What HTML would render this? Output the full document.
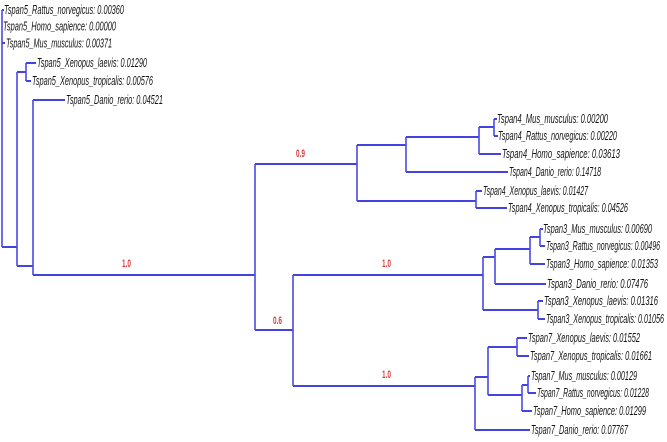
<!DOCTYPE html>
<html>
<head>
<meta charset="utf-8">
<style>
html,body{margin:0;padding:0;background:#fff;}
svg{display:block;}
.t{font-family:"Liberation Sans",Arial,sans-serif;font-style:italic;font-size:13px;fill:#151515;}
.s{font-family:"Liberation Sans",Arial,sans-serif;font-weight:bold;font-size:11px;fill:#d63a3a;}
.h{stroke:#4343e2;stroke-width:2;fill:none;}
.v{stroke:#4a4ae4;stroke-width:1.6;fill:none;}
</style>
</head>
<body>
<svg width="667" height="442" viewBox="0 0 667 442" xmlns="http://www.w3.org/2000/svg">
<rect width="667" height="442" fill="#fff"/>
<path class="h" d="
M2 10H4 M2 43H5 M2 247H17 M17 72H26 M26 63H36 M26 81H31
M17 266H33 M33 100H65 M33 275H255
M255 164H357 M357 145H406 M406 137H479 M479 127H494
M494 119H497 M494 136H498 M479 154H501 M406 172H508
M357 201H476 M476 191H482 M476 208H507
M255 330H293 M293 275H483 M483 257H495 M495 249H530
M530 237H540 M540 229H543 M540 246H545 M530 264H545
M495 284H546 M483 310H538 M538 301H543 M538 319H545
M293 386H475 M475 377H488 M488 347H517 M517 338H527 M517 356H529
M488 395H522 M522 385H528 M528 376H530 M528 393H536 M522 411H532
M475 430H530"/>
<path class="v" d="
M2 10V247 M17 72V266 M26 63V81 M33 100V275
M255 164V330 M357 145V201 M406 137V172 M479 127V154 M494 119V136 M476 191V208
M293 275V386 M483 257V310 M495 249V284 M530 237V264 M540 229V246 M538 301V319
M475 377V430 M488 347V395 M517 338V356 M522 385V411 M528 376V393"/>

<text class="s" x="296" y="157" textLength="9" lengthAdjust="spacingAndGlyphs">0.9</text>
<text class="s" x="122" y="267" textLength="9" lengthAdjust="spacingAndGlyphs">1.0</text>
<text class="s" x="382" y="267" textLength="9" lengthAdjust="spacingAndGlyphs">1.0</text>
<text class="s" x="273" y="324" textLength="9" lengthAdjust="spacingAndGlyphs">0.6</text>
<text class="s" x="382" y="378" textLength="9" lengthAdjust="spacingAndGlyphs">1.0</text>

<text class="t" x="4" y="14" textLength="120" lengthAdjust="spacingAndGlyphs">Tspan5_Rattus_norvegicus: 0.00360</text>
<text class="t" x="3" y="30.5" textLength="113" lengthAdjust="spacingAndGlyphs">Tspan5_Homo_sapience: 0.00000</text>
<text class="t" x="6" y="47.5" textLength="106" lengthAdjust="spacingAndGlyphs">Tspan5_Mus_musculus: 0.00371</text>
<text class="t" x="37" y="67" textLength="110" lengthAdjust="spacingAndGlyphs">Tspan5_Xenopus_laevis: 0.01290</text>
<text class="t" x="32" y="85" textLength="121" lengthAdjust="spacingAndGlyphs">Tspan5_Xenopus_tropicalis: 0.00576</text>
<text class="t" x="66" y="104" textLength="97" lengthAdjust="spacingAndGlyphs">Tspan5_Danio_rerio: 0.04521</text>

<text class="t" x="497" y="123" textLength="111" lengthAdjust="spacingAndGlyphs">Tspan4_Mus_musculus: 0.00200</text>
<text class="t" x="498" y="140" textLength="119" lengthAdjust="spacingAndGlyphs">Tspan4_Rattus_norvegicus: 0.00220</text>
<text class="t" x="502" y="158" textLength="118" lengthAdjust="spacingAndGlyphs">Tspan4_Homo_sapience: 0.03613</text>
<text class="t" x="509" y="176" textLength="92" lengthAdjust="spacingAndGlyphs">Tspan4_Danio_rerio: 0.14718</text>
<text class="t" x="483" y="195" textLength="105" lengthAdjust="spacingAndGlyphs">Tspan4_Xenopus_laevis: 0.01427</text>
<text class="t" x="508" y="212" textLength="120" lengthAdjust="spacingAndGlyphs">Tspan4_Xenopus_tropicalis: 0.04526</text>

<text class="t" x="543" y="233" textLength="109" lengthAdjust="spacingAndGlyphs">Tspan3_Mus_musculus: 0.00690</text>
<text class="t" x="546" y="250" textLength="114" lengthAdjust="spacingAndGlyphs">Tspan3_Rattus_norvegicus: 0.00496</text>
<text class="t" x="546" y="268" textLength="112" lengthAdjust="spacingAndGlyphs">Tspan3_Homo_sapience: 0.01353</text>
<text class="t" x="547" y="288" textLength="101" lengthAdjust="spacingAndGlyphs">Tspan3_Danio_rerio: 0.07476</text>
<text class="t" x="544" y="305" textLength="114" lengthAdjust="spacingAndGlyphs">Tspan3_Xenopus_laevis: 0.01316</text>
<text class="t" x="546" y="323" textLength="118" lengthAdjust="spacingAndGlyphs">Tspan3_Xenopus_tropicalis: 0.01056</text>

<text class="t" x="528" y="342" textLength="112" lengthAdjust="spacingAndGlyphs">Tspan7_Xenopus_laevis: 0.01552</text>
<text class="t" x="530" y="360" textLength="122" lengthAdjust="spacingAndGlyphs">Tspan7_Xenopus_tropicalis: 0.01661</text>
<text class="t" x="531" y="380" textLength="106" lengthAdjust="spacingAndGlyphs">Tspan7_Mus_musculus: 0.00129</text>
<text class="t" x="537" y="397" textLength="112" lengthAdjust="spacingAndGlyphs">Tspan7_Rattus_norvegicus: 0.01228</text>
<text class="t" x="533" y="415" textLength="113" lengthAdjust="spacingAndGlyphs">Tspan7_Homo_sapience: 0.01299</text>
<text class="t" x="531" y="434" textLength="97" lengthAdjust="spacingAndGlyphs">Tspan7_Danio_rerio: 0.07767</text>
</svg>
</body>
</html>
